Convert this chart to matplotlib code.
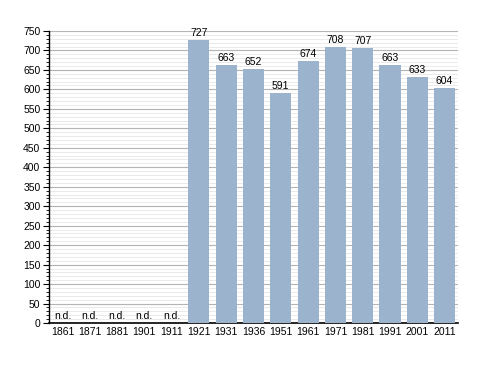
import numpy as np
import matplotlib.pyplot as plt
from matplotlib.ticker import MultipleLocator

plt.rcParams['font.family'] = ['Liberation Sans', 'DejaVu Sans']

# Census years and population (None = no data)
years = ['1861', '1871', '1881', '1901', '1911', '1921', '1931', '1936',
         '1951', '1961', '1971', '1981', '1991', '2001', '2011']
population = [None, None, None, None, None, 727, 663, 652,
              591, 674, 708, 707, 663, 633, 604]

fig = plt.figure(figsize=(4.88, 3.73), dpi=100)
ax = fig.add_axes([0.100, 0.134, 0.839, 0.783])

x = np.arange(len(years))
values = [v if v is not None else 0 for v in population]
ax.bar(x, values, width=0.77, color='#9bb3cd', zorder=3)

for xi, v in zip(x, population):
    if v is None:
        ax.text(xi, 5, 'n.d.', ha='center', va='bottom', fontsize=7.5, zorder=4)
    else:
        ax.text(xi, v + 5, str(v), ha='center', va='bottom', fontsize=7.5, zorder=4)

ax.set_xlim(-0.5, len(years) - 0.5)
ax.set_ylim(0, 750)
ax.set_xticks(x)
ax.set_xticklabels(years)
ax.yaxis.set_major_locator(MultipleLocator(50))
ax.yaxis.set_minor_locator(MultipleLocator(10))

ax.grid(axis='y', which='major', color='#b4b4b4', linewidth=0.8, zorder=1)
ax.grid(axis='y', which='minor', color='#e6e6e6', linewidth=0.6, zorder=1)

for s in ['top', 'right']:
    ax.spines[s].set_visible(False)
ax.spines['left'].set_linewidth(1.0)
ax.spines['bottom'].set_linewidth(1.2)

ax.tick_params(axis='x', length=0, labelsize=7.5, pad=3)
ax.tick_params(axis='y', which='major', length=4, labelsize=7.5, pad=2)
ax.tick_params(axis='y', which='minor', length=2.5)

fig.savefig('out.png', dpi=100)
